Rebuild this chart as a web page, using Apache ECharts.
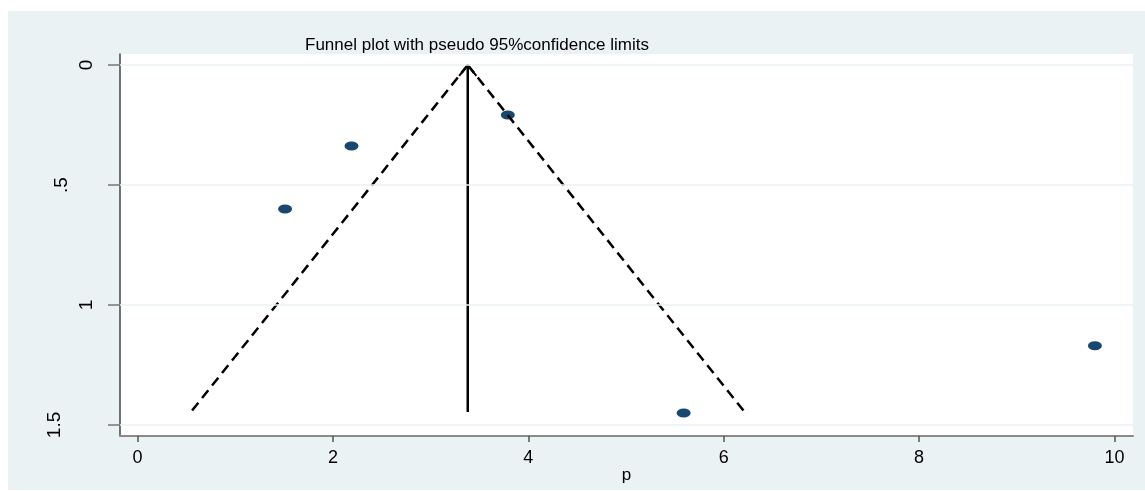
<!DOCTYPE html>
<html>
<head>
<meta charset="utf-8">
<script src="https://cdn.jsdelivr.net/npm/echarts@6/dist/echarts.min.js"></script>
<style>html,body{margin:0;padding:0;background:#fff;}#c{width:1145px;height:491px;}</style>
</head>
<body>
<div id="c"></div>
<script>
// Study estimates (effect p) and standard errors
const studyP = [3.79, 2.19, 1.51, 5.59, 9.80];
const studySE = [0.208, 0.3375, 0.60, 1.45, 1.17];
// Pooled estimate and maximum standard error for funnel
const pooled = [3.38];
const seMax = [1.446];
const xTicks = [0, 2, 4, 6, 8, 10];
const yTicks = [0, 0.5, 1, 1.5];
const yTickLabels = ['0', '.5', '1', '1.5'];

const z = 1.96;
const c0 = pooled[0], sm = seMax[0];
const points = studyP.map((p, i) => [p, studySE[i]]);
const leftLimit = [[c0, 0], [c0 - z * sm, sm]];
const rightLimit = [[c0, 0], [c0 + z * sm, sm]];
const centerLine = [[c0, 0], [c0, sm]];
const tipSE = 0.045;
const chevron = [[c0 - z * tipSE, tipSE], [c0, 0], [c0 + z * tipSE, tipSE]];

const labelStyleKey = {'0': 'a', '1': 'a', '.5': 'b', '1.5': 'c'};
const labelFont = {fontFamily: 'Liberation Sans', fontSize: 19, color: '#000'};

const chart = echarts.init(document.getElementById('c'));
chart.setOption({
  animation: false,
  backgroundColor: '#ffffff',
  graphic: [{
    type: 'rect', z: -10, silent: true,
    shape: {x: 8, y: 11, width: 1137, height: 479},
    style: {fill: '#eaf2f3'}
  }],
  title: {
    text: 'Funnel plot with pseudo 95%confidence limits',
    left: 300, top: 32,
    textStyle: {fontFamily: 'Liberation Sans', fontSize: 17, fontWeight: 'normal', color: '#000'}
  },
  grid: {left: 120, right: 12, top: 54, bottom: 55, show: true, backgroundColor: '#ffffff', borderWidth: 0,
         containLabel: false, outerBoundsMode: 'none'},
  xAxis: {
    type: 'value', min: -0.18, max: 10.19,
    name: 'p', nameLocation: 'middle', nameGap: 31, nameMoveOverlap: false,
    nameTextStyle: {fontFamily: 'Liberation Sans', fontSize: 17, color: '#000'},
    axisLine: {show: true, onZero: false, lineStyle: {color: '#8a8a8a', width: 2}},
    axisTick: {show: true, length: 6, customValues: xTicks, lineStyle: {color: '#555', width: 1.5}},
    axisLabel: {customValues: xTicks, margin: 13, fontFamily: 'Liberation Sans', fontSize: 18, color: '#000'},
    splitLine: {show: false}
  },
  yAxis: {
    type: 'value', inverse: true, min: -0.046, max: 1.546,
    axisLine: {show: true, onZero: false, lineStyle: {color: '#444', width: 1.5}},
    axisTick: {show: true, length: 12, customValues: yTicks, lineStyle: {color: '#777', width: 1.5}},
    axisLabel: {
      customValues: yTicks, rotate: 90, margin: 24,
      fontFamily: 'Liberation Sans', fontSize: 19, color: '#000',
      formatter: v => {
        const i = yTicks.findIndex(t => Math.abs(t - v) < 1e-6);
        if (i < 0) return '';
        const s = yTickLabels[i];
        return '{' + labelStyleKey[s] + '|' + s + '}';
      },
      rich: {
        a: Object.assign({}, labelFont),
        b: Object.assign({padding: [0, 0, 25, 0]}, labelFont),
        c: Object.assign({padding: [0, 0, 32, 0]}, labelFont)
      }
    },
    splitLine: {show: false}
  },
  series: [
    {
      type: 'line', data: [], silent: true,
      markLine: {
        silent: true, symbol: ['none', 'none'], label: {show: false},
        lineStyle: {color: '#eaf2f3', width: 1.5, type: 'solid'},
        data: yTicks.map(t => ({yAxis: t}))
      }
    },
    {type: 'line', data: leftLimit, showSymbol: false, symbol: 'none', lineStyle: {color: '#000', width: 2.5, type: [10, 6]}},
    {type: 'line', data: rightLimit, showSymbol: false, symbol: 'none', lineStyle: {color: '#000', width: 2.5, type: [10, 6]}},
    {type: 'line', data: centerLine, showSymbol: false, symbol: 'none', lineStyle: {color: '#000', width: 2.5}},
    {type: 'line', data: chevron, showSymbol: false, symbol: 'none', lineStyle: {color: '#000', width: 2}},
    {type: 'scatter', data: points, symbol: 'circle', symbolSize: [14, 9], itemStyle: {color: '#1a476f', opacity: 1}}
  ]
});
</script>
</body>
</html>
